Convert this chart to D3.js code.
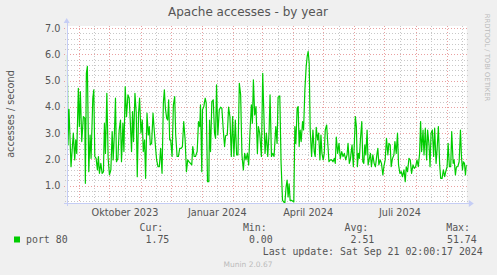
<!DOCTYPE html>
<html><head><meta charset="utf-8">
<script src="https://cdn.jsdelivr.net/npm/d3@7"></script>
<style>
html,body{margin:0;padding:0;background:#f0f0f0;}
svg{display:block;}
</style></head><body>
<svg id="c" width="497" height="275"></svg>
<script>
// ---------- data ----------
const chartTitle = "Apache accesses - by year";
const yAxisTitle = "accesses / second";
const sideCredit = "RRDTOOL / TOBI OETIKER";
const footerText = "Munin 2.0.67";
const seriesName = "port 80";
const startTime = Date.UTC(2023, 7, 19, 11, 0);   // left edge of the graph
const endTime = Date.UTC(2024, 8, 21, 2, 0);      // last update
const yLimits = [0.34, 7.08];
const yTickValues = [1, 2, 3, 4, 5, 6, 7];
const monthLabelStarts = ["2023-10-01", "2024-01-01", "2024-04-01", "2024-07-01"];
const monthLabelTexts = ["Oktober 2023", "Januar 2024", "April 2024", "Juli 2024"];
const legendHeads = ["Cur:", "Min:", "Avg:", "Max:"];
const legendValues = ["1.75", "0.00", "2.51", "51.74"];
const lastUpdate = "Last update: Sat Sep 21 02:00:17 2024";

// days since startTime
const dayOffset = [
0.6,1.3,2.3,4.3,6.6,8.0,9.0,10.0,11.6,12.6,13.6,15.0,16.6,18.0,18.6,19.6,20.6,22.0,23.3,24.3,
26.0,27.0,28.0,29.3,30.6,31.6,32.6,34.0,35.3,36.6,37.6,38.6,40.0,41.3,42.6,44.0,45.3,46.3,47.6,48.6,
49.6,51.0,52.3,53.6,54.6,56.0,57.0,58.3,59.6,61.0,62.3,63.3,64.6,65.6,66.6,68.0,69.3,70.3,71.6,72.6,
74.0,75.3,76.3,77.6,78.6,80.0,81.3,82.3,83.3,84.6,86.0,87.3,88.6,89.6,91.0,92.3,93.6,95.0,96.3,97.3,
98.3,99.6,100.6,101.6,102.6,103.6,105.0,106.3,107.6,108.6,110.0,111.3,112.6,114.0,115.3,116.6,118.0,119.3,120.6,122.0,
123.3,124.6,125.6,127.0,128.3,130.0,131.3,132.6,133.3,134.6,135.3,136.6,138.0,139.0,140.3,141.6,
142.3,143.3,144.6,146.0,147.3,148.3,149.3,150.6,152.0,153.3,154.6,156.0,157.3,158.3,160.0,161.3,162.6,164.0,165.3,166.6,
168.0,169.3,170.6,172.0,173.3,174.6,176.0,177.3,178.6,180.0,181.3,182.6,184.0,185.0,186.0,187.3,188.6,190.0,191.0,192.3,
194.0,195.3,196.6,197.6,199.0,200.3,201.6,202.6,204.0,205.3,206.6,208.3,209.6,210.6,212.3,213.6,215.0,216.3,217.3,218.6,
219.6,220.6,221.6,222.6,224.0,225.3,226.3,227.3,228.3,229.6,230.6,231.6,232.6,233.6,235.0,236.0,237.3,238.6,239.6,240.6,
241.6,242.6,244.0,245.3,246.6,247.6,248.6,250.0,251.0,252.3,253.3,254.3,255.6,256.6,257.6,259.0,260.0,261.3,262.6,264.0,
265.3,266.6,267.6,268.6,270.0,271.3,272.6,274.0,275.3,276.6,278.0,279.3,280.3,281.6,282.6,
283.3,284.3,285.6,286.6,287.6,288.6,289.6,290.6,291.6,292.6,294.0,295.0,296.0,297.0,298.0,299.3,300.3,301.3,302.6,303.6,
305.0,306.3,307.6,309.0,310.0,311.0,312.3,313.6,315.0,316.0,317.3,318.6,320.0,321.0,322.3,323.3,324.6,326.0,327.0,328.3,
329.6,330.6,332.0,333.3,334.6,336.0,337.3,338.3,339.6,341.0,342.3,343.6,345.0,346.3,347.6,349.0,350.3,351.6,352.6,353.6,
355.0,356.0,357.3,358.6,359.6,361.0,362.0,363.0,364.3,365.6,366.6,368.0,369.0,370.3,371.6,372.6,374.0,375.3,376.6,377.6,
379.0,380.0,381.3,382.6,383.6,385.0,386.0,387.3,388.3,389.6,391.0,392.3,393.3,394.3,395.3,396.3,397.3,398.3
];
const accessesPerSecond = [
5.98,2.55,3.91,1.72,3.0,1.98,2.74,2.23,4.71,3.25,4.58,2.68,3.63,3.57,1.09,5.28,5.54,1.53,2.93,2.04,
4.33,4.65,2.11,2.04,1.6,2.11,1.47,1.85,1.47,1.53,3.38,2.23,4.52,2.04,1.41,1.6,3.06,1.98,3.06,4.33,
1.91,2.04,3.12,3.5,1.91,3.38,2.3,4.77,3.63,4.46,4.33,3.5,2.3,3.82,2.68,4.52,3.76,1.34,3.76,4.33,
3.0,3.5,2.3,2.74,1.28,3.76,2.93,3.25,2.55,2.61,3.76,3.06,2.42,1.98,1.72,1.72,2.42,1.47,4.14,4.65,
3.95,3.57,3.5,4.27,2.74,2.74,2.11,4.08,4.39,2.93,2.11,2.11,2.42,2.42,2.49,3.44,2.74,1.53,1.98,1.91,
1.85,1.79,2.49,2.11,2.11,2.3,3.44,3.25,4.08,1.53,3.89,4.01,4.33,4.14,1.15,1.15,
3.5,2.3,4.2,4.27,3.0,2.8,4.84,2.93,3.89,3.99,3.95,3.12,2.49,2.9,2.93,3.99,3.63,2.11,3.63,2.11,
3.5,2.17,2.17,4.9,4.46,2.17,1.6,2.23,1.98,2.23,1.79,3.06,4.08,3.38,5.03,3.69,4.01,2.23,3.25,3.0,
2.11,5.28,3.5,2.23,3.0,2.11,3.0,4.46,2.11,2.23,2.11,3.25,2.61,4.37,4.42,1.85,0.44,0.38,0.32,0.96,
1.21,0.57,1.07,0.44,0.44,0.41,0.38,3.25,2.61,3.95,4.01,2.49,3.12,2.68,3.44,3.12,4.65,5.54,5.92,6.11,
5.66,3.12,2.11,3.12,2.3,2.11,3.22,2.74,3.0,1.98,2.93,2.23,1.98,2.23,3.12,3.31,2.68,1.91,1.98,1.98,
1.91,2.04,1.85,2.85,2.23,2.61,2.04,2.3,2.11,2.23,1.98,2.17,2.61,1.85,1.98,
2.23,2.55,1.72,2.61,3.63,3.25,1.72,2.23,2.04,2.74,3.44,1.91,1.85,2.55,2.17,3.12,1.79,1.98,2.23,1.72,
2.17,1.85,1.72,2.17,2.42,1.79,1.98,1.85,1.41,1.72,1.98,2.8,2.17,2.61,2.55,1.72,2.04,2.17,2.68,2.23,
3.0,1.79,1.47,1.53,1.34,1.6,1.15,1.72,1.53,2.04,1.98,1.47,1.79,1.66,1.72,1.98,1.72,2.23,3.44,2.3,
3.12,2.17,3.19,1.98,3.12,2.55,1.72,3.0,3.12,2.11,3.19,1.85,2.36,3.25,1.79,1.28,1.28,1.6,1.34,1.53,
1.72,2.61,1.72,1.72,3.06,1.85,1.98,1.41,1.72,1.72,1.91,3.12,2.11,1.6,1.91,1.85,1.41,1.79
];

// ---------- layout ----------
const W = 497, H = 275;
const L = 66.7, R = 466.8, T = 26, B = 203;
const svg = d3.select("#c");
const DAY = 86400000;

const x = d3.scaleUtc().domain([new Date(startTime), new Date(endTime)]).range([L, R]);
const y = d3.scaleLinear().domain(yLimits).range([B, T]);

svg.append("rect").attr("width", W).attr("height", H).attr("fill", "#f0f0f0");
svg.append("rect").attr("x", L).attr("y", T).attr("width", R - L).attr("height", B - T).attr("fill", "#ffffff");

const gridG = svg.append("g").attr("shape-rendering", "crispEdges");
const px = v => Math.round(v) + 0.5;

// minor horizontal grid every 0.2
const minorY = d3.range(0.4, 7.01, 0.2).filter(v => Math.abs(v - Math.round(v)) > 0.05);
gridG.selectAll("line.mny").data(minorY).join("line")
  .attr("x1", L - 2).attr("x2", R + 2)
  .attr("y1", d => px(y(d))).attr("y2", d => px(y(d)))
  .attr("stroke", "#c8c8c8").attr("stroke-dasharray", "1,2");

// month boundaries and mid-month minors
const months = d3.utcMonth.range(d3.utcMonth.ceil(new Date(startTime)), new Date(endTime));
const midMonths = d3.utcMonth.range(d3.utcMonth.floor(new Date(startTime)), new Date(endTime))
  .map(m => new Date((+m + +d3.utcMonth.offset(m, 1)) / 2))
  .filter(d => d > new Date(startTime) && d < new Date(endTime));
gridG.selectAll("line.mnx").data(midMonths).join("line")
  .attr("x1", d => px(x(d))).attr("x2", d => px(x(d)))
  .attr("y1", T).attr("y2", B + 2)
  .attr("stroke", "#c8c8c8").attr("stroke-dasharray", "1,2");

// major grid
gridG.selectAll("line.mjy").data(yTickValues).join("line")
  .attr("x1", L - 3).attr("x2", R + 2)
  .attr("y1", d => px(y(d))).attr("y2", d => px(y(d)))
  .attr("stroke", "#eaa0a0").attr("stroke-dasharray", "1,2");
gridG.selectAll("line.mjx").data(months).join("line")
  .attr("x1", d => px(x(d))).attr("x2", d => px(x(d)))
  .attr("y1", T).attr("y2", B + 3)
  .attr("stroke", "#eaa0a0").attr("stroke-dasharray", "1,2");

// data line
svg.append("clipPath").attr("id", "pc").append("rect")
  .attr("x", L).attr("y", T).attr("width", R - L).attr("height", B - T);
const pts = d3.zip(dayOffset, accessesPerSecond).map(([d, v]) => ({t: new Date(startTime + d * DAY), v}));
svg.append("path").datum(pts)
  .attr("clip-path", "url(#pc)")
  .attr("fill", "none").attr("stroke", "#00cc00").attr("stroke-width", 1.2)
  .attr("stroke-linejoin", "round")
  .attr("d", d3.line().x(d => x(d.t)).y(d => y(d.v)));

// axes with arrows
const axisCol = "#c5cdf5";
svg.append("line").attr("x1", px(L) - 0.5).attr("x2", px(L) - 0.5).attr("y1", B + 3).attr("y2", T - 4)
  .attr("stroke", axisCol).attr("shape-rendering", "crispEdges");
svg.append("path").attr("d", `M${L - 3},${T - 3} L${L},${T - 8} L${L + 3},${T - 3} Z`).attr("fill", axisCol);
svg.append("line").attr("x1", L - 3).attr("x2", R + 4).attr("y1", px(B)).attr("y2", px(B))
  .attr("stroke", axisCol).attr("shape-rendering", "crispEdges");
svg.append("path").attr("d", `M${R + 2},${B - 3} L${R + 7},${B + 0.5} L${R + 2},${B + 4} Z`).attr("fill", axisCol);

// y tick labels
const txtCol = "#555";
svg.selectAll("text.yt").data(yTickValues).join("text")
  .attr("x", 60.5).attr("y", d => y(d) + 3.5)
  .attr("text-anchor", "end").attr("font-family", "DejaVu Sans").attr("font-size", 9.7)
  .attr("fill", txtCol).text(d => d.toFixed(1));

// x labels centered in month
svg.selectAll("text.xt").data(monthLabelStarts).join("text")
  .attr("x", (d) => { const m = new Date(d + "T00:00:00Z"); return (x(m) + x(d3.utcMonth.offset(m, 1))) / 2; })
  .attr("y", 216)
  .attr("text-anchor", "middle").attr("font-family", "DejaVu Sans").attr("font-size", 9.7)
  .attr("fill", txtCol).text((d, i) => monthLabelTexts[i]);

// title
svg.append("text").attr("x", 248).attr("y", 16).attr("text-anchor", "middle")
  .attr("font-family", "DejaVu Sans").attr("font-size", 12).attr("fill", txtCol).text(chartTitle);

// y axis title
svg.append("text").attr("transform", "translate(14,114) rotate(-90)").attr("text-anchor", "middle")
  .attr("font-family", "DejaVu Sans").attr("font-size", 9.7).attr("fill", txtCol).text(yAxisTitle);

// side credit
svg.append("text").attr("transform", "translate(485,57.5) rotate(90)").attr("text-anchor", "middle")
  .attr("font-family", "DejaVu Sans").attr("font-size", 6.8).attr("fill", "#bbbbbb").text(sideCredit);

// legend
const mono = "DejaVu Sans Mono";
const headEnds = [163.3, 266.7, 368.3, 470];
const valEnds = [169.3, 272.7, 374.3, 476.7];
svg.selectAll("text.lh").data(legendHeads).join("text")
  .attr("x", (d, i) => headEnds[i]).attr("y", 231).attr("text-anchor", "end")
  .attr("font-family", mono).attr("font-size", 9.9).attr("fill", txtCol).text(d => d);
svg.selectAll("text.lv").data(legendValues).join("text")
  .attr("x", (d, i) => valEnds[i]).attr("y", 242.5).attr("text-anchor", "end")
  .attr("font-family", mono).attr("font-size", 9.9).attr("fill", txtCol).text(d => d);
svg.append("rect").attr("x", 14).attr("y", 236.5).attr("width", 6).attr("height", 6).attr("fill", "#00cc00");
svg.append("text").attr("x", 26).attr("y", 242.5).attr("font-family", mono).attr("font-size", 9.9)
  .attr("fill", txtCol).text(seriesName);
svg.append("text").attr("x", 482.7).attr("y", 254.5).attr("text-anchor", "end")
  .attr("font-family", mono).attr("font-size", 9.9).attr("fill", txtCol).text(lastUpdate);
svg.append("text").attr("x", 248).attr("y", 267).attr("text-anchor", "middle")
  .attr("font-family", "DejaVu Sans").attr("font-size", 7.5).attr("fill", "#bbbbbb").text(footerText);
</script>
</body></html>
